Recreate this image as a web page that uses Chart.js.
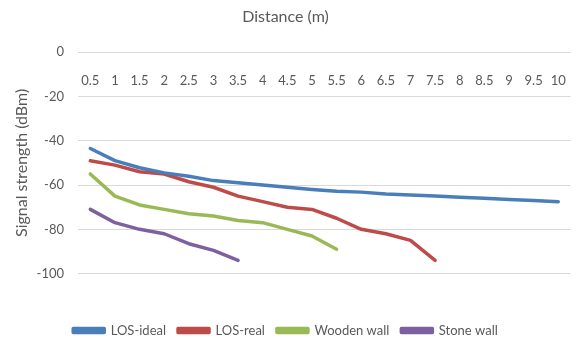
<!DOCTYPE html>
<html lang="en">
<head>
    <meta charset="UTF-8">
    <title>Signal strength vs distance</title>
    <script src="https://cdn.jsdelivr.net/npm/chart.js"></script>
    <style>
        html, body { margin: 0; padding: 0; background: #fff; }
        #wrap { width: 579px; height: 340px; }
    </style>
</head>
<body>

<div id="wrap"><canvas id="lineChart" width="579" height="340"></canvas></div>

<script>
    // Distance categories (m)
    const distances = ['0.5', '1', '1.5', '2', '2.5', '3', '3.5', '4', '4.5', '5',
                       '5.5', '6', '6.5', '7', '7.5', '8', '8.5', '9', '9.5', '10'];

    // Signal strength readings (dBm)
    const losIdeal = [-43.5, -49, -52.2, -54.5, -56, -58, -59, -60, -61, -62,
                      -62.8, -63.2, -64, -64.5, -65, -65.5, -66, -66.5, -67, -67.5];
    const losReal = [-49, -51, -54, -55, -58.5, -61, -65, -67.5, -70, -71,
                     -75, -80, -82, -85, -94];
    const woodenWall = [-55, -65, -69, -71, -73, -74, -76, -77, -80, -83, -89];
    const stoneWall = [-71, -77, -80, -82, -86.5, -89.5, -94];

    const textColor = '#595959';
    const fontFamily = 'Lato, "Open Sans", sans-serif';

    function series(label, data, color) {
        return {
            label: label,
            data: data,
            borderColor: color,
            backgroundColor: color,
            borderWidth: 3.5,
            borderCapStyle: 'round',
            borderJoinStyle: 'round',
            pointRadius: 0,
            tension: 0,
            fill: false
        };
    }

    const ctx = document.getElementById('lineChart').getContext('2d');
    const lineChart = new Chart(ctx, {
        type: 'line',
        data: {
            labels: distances,
            datasets: [
                series('LOS-ideal', losIdeal, '#4A7EBB'),
                series('LOS-real', losReal, '#BE4B48'),
                series('Wooden wall', woodenWall, '#98B954'),
                series('Stone wall', stoneWall, '#7D60A0')
            ]
        },
        options: {
            responsive: false,
            animation: false,
            // negative bottom padding lets the legend row sit lower, like the original
            layout: { padding: { left: 0, right: 8, top: 0, bottom: -7 } },
            plugins: {
                title: {
                    display: true,
                    text: 'Distance (m)',
                    color: textColor,
                    font: { family: fontFamily, size: 16, weight: 'normal' },
                    padding: { top: 7, bottom: 26 }
                },
                legend: {
                    position: 'bottom',
                    title: { display: true, text: '', padding: 12, font: { size: 12 } },
                    labels: {
                        color: textColor,
                        font: { family: fontFamily, size: 13 },
                        boxWidth: 31,
                        boxHeight: 4,
                        padding: 12
                    }
                },
                tooltip: { enabled: false }
            },
            scales: {
                x: {
                    position: { y: 0 },
                    offset: true,
                    grid: { display: false },
                    border: { display: false },
                    ticks: {
                        color: textColor,
                        font: { family: fontFamily, size: 13 },
                        padding: 13,
                        maxRotation: 0,
                        autoSkip: false
                    }
                },
                y: {
                    min: -100,
                    max: 0,
                    afterFit: (scale) => { scale.width = 78; },
                    grid: { color: '#d9d9d9', drawTicks: false },
                    border: { display: false },
                    ticks: {
                        stepSize: 20,
                        color: textColor,
                        font: { family: fontFamily, size: 13 },
                        padding: 14
                    },
                    title: {
                        display: true,
                        text: 'Signal strength (dBm)',
                        color: textColor,
                        font: { family: fontFamily, size: 16 },
                        padding: { top: 12, bottom: 10 }
                    }
                }
            }
        }
    });
</script>

</body>
</html>
